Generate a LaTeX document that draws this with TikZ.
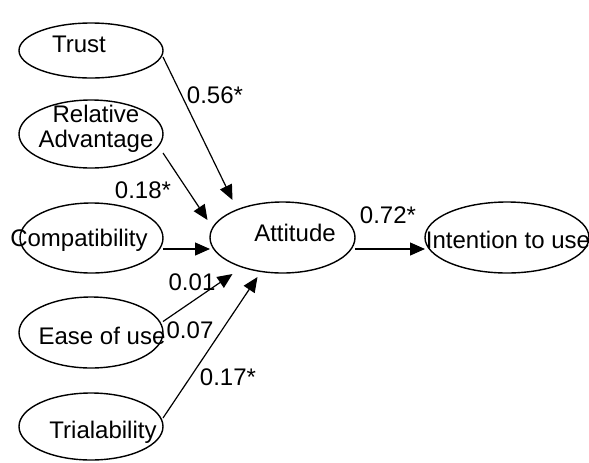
\documentclass[tikz,border=0pt]{standalone}
\usepackage{fontspec}
\setmainfont{Liberation Sans}
\usetikzlibrary{shapes.geometric,arrows.meta,calc}
\tikzset{
  oval/.style={draw=black, line width=0.7pt, ellipse, inner sep=0pt},
  txt/.style={inner sep=0pt, font=\fontsize{12}{14}\selectfont, align=center},
  arr/.style={draw=black, line width=0.6pt, -{Triangle[length=7.5pt,width=6.5pt]}},
}
\begin{document}
\begin{tikzpicture}[x=0.5pt,y=-0.5pt]
\useasboundingbox (0,0) rectangle (589,462);
% ellipses
\node[oval, minimum width=72pt, minimum height=27.5pt] (trust) at (91,50.5) {};
\node[oval, minimum width=72pt, minimum height=34pt] (ra) at (91,134) {};
\node[oval, minimum width=71.5pt, minimum height=35pt] (comp) at (91.5,238) {};
\node[oval, minimum width=72pt, minimum height=35.5pt] (ease) at (91,332.5) {};
\node[oval, minimum width=72pt, minimum height=33.5pt] (trial) at (91,426.5) {};
\node[oval, minimum width=72.5pt, minimum height=35.5pt] (att) at (282.5,237.5) {};
\node[oval, minimum width=82pt, minimum height=35.5pt] (int) at (507,237.5) {};
% texts
\node[txt] (ttrust) at (79,44) {Trust};
\node[txt] (tra) at (96,129) {Relative\\[-1.5pt]Advantage};
\node[txt] (tcomp) at (79,240) {Compatibility};
\node[txt] (tease) at (102,336) {Ease of use};
\node[txt] (ttrial) at (103,432) {Trialability};
\node[txt] (tatt) at (295,233) {Attitude};
\node[txt] (tint) at (508,240) {Intention to use};
% connectors
\draw[arr] ($(trust)+(72,6.5)$) -- ($(att)+(-50,-37.5)$);
\draw[arr] ($(ra)+(72,19)$) -- ($(att)+(-75,-17.5)$);
\draw[arr] ($(comp)+(71.5,11)$) -- ($(att)+(-72.5,11.5)$);
\draw[arr] ($(ease)+(72,-11)$) -- ($(att)+(-50,36.5)$);
\draw[arr] ($(trial)+(72,-8.5)$) -- ($(att)+(-25,39.5)$);
\draw[arr] ($(att)+(72.5,11.5)$) -- ($(int)+(-82,11.5)$);
% coefficient labels
\node[txt] (l1) at (215,95) {0.56*};
\node[txt] (l2) at (143,190) {0.18*};
\node[txt] (l3) at (192,282) {0.01};
\node[txt] (l4) at (190,330) {0.07};
\node[txt] (l5) at (228,377) {0.17*};
\node[txt] (l6) at (388,215) {0.72*};
\end{tikzpicture}
\end{document}
